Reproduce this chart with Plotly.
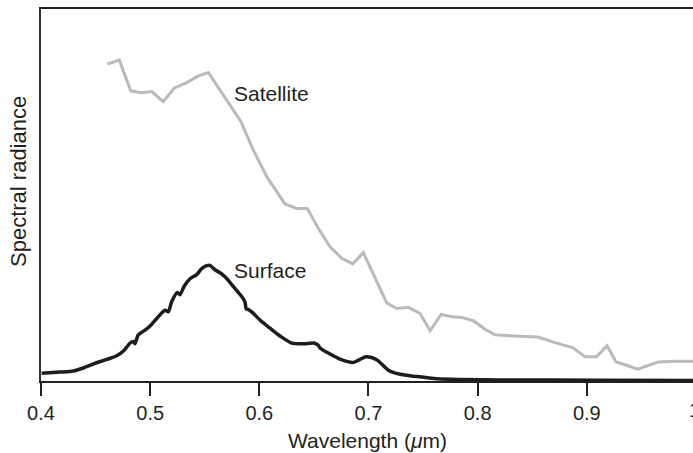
import plotly.graph_objects as go

# Satellite spectrum (wavelength in um, relative radiance 0-100)
sat_wl = [0.4607, 0.4717, 0.4822, 0.4923, 0.5014, 0.5120, 0.5219, 0.5335, 0.5441, 0.5533,
          0.5832, 0.5945, 0.6071, 0.6235, 0.6343, 0.6440, 0.6541, 0.6648, 0.6755, 0.6856,
          0.6953, 0.7167, 0.7259, 0.7365, 0.7472, 0.7564, 0.7665, 0.7763, 0.7854, 0.7961,
          0.8068, 0.8159, 0.8327, 0.8553, 0.8709, 0.8874, 0.8984, 0.9089, 0.9186, 0.9268,
          0.9360, 0.9465, 0.9655, 0.9809, 1.0]
sat_rad = [85.2, 86.3, 78.0, 77.5, 77.8, 75.1, 78.7, 80.2, 82.0, 82.9,
           69.7, 62.1, 54.8, 47.6, 46.4, 46.4, 41.0, 36.1, 33.0, 31.5,
           34.5, 21.0, 19.5, 19.8, 18.2, 13.5, 17.9, 17.3, 17.1, 16.2,
           13.9, 12.4, 12.1, 11.8, 10.3, 8.9, 6.5, 6.5, 9.5, 5.1,
           4.3, 3.2, 5.1, 5.3, 5.3]

# Surface spectrum
sur_wl = [0.4006, 0.4174, 0.4296, 0.4388, 0.4510, 0.4605, 0.4694, 0.4760, 0.4815, 0.4850,
          0.4861, 0.4891, 0.4950, 0.4999, 0.5060, 0.5136, 0.5166, 0.5197, 0.5249, 0.5273,
          0.5310, 0.5365, 0.5426, 0.5472, 0.5518, 0.5548, 0.5594, 0.5640, 0.5686, 0.5762,
          0.5839, 0.5869, 0.5880, 0.5900, 0.5930, 0.6006, 0.6098, 0.6190, 0.6297, 0.6403,
          0.6500, 0.6540, 0.6556, 0.6632, 0.6739, 0.6861, 0.6978, 0.7075, 0.7182, 0.7289,
          0.7442, 0.7625, 0.7839, 0.8205, 0.9122, 1.0]
sur_rad = [2.1, 2.4, 2.7, 3.5, 4.9, 5.8, 6.8, 8.2, 10.2, 10.6,
           10.0, 12.4, 13.6, 14.8, 16.8, 19.0, 18.6, 21.3, 23.8, 23.2,
           25.4, 27.5, 28.6, 30.2, 31.0, 31.1, 29.9, 29.1, 28.0, 25.4,
           22.7, 21.2, 19.4, 19.2, 18.6, 16.4, 14.2, 12.1, 10.2, 10.0,
           10.2, 9.6, 8.9, 7.5, 5.9, 5.0, 6.5, 5.7, 2.9, 1.8,
           1.2, 0.6, 0.4, 0.3, 0.2, 0.15]

tick_vals = [0.4, 0.5, 0.6, 0.7, 0.8, 0.9]
tick_text = ["0.4", "0.5", "0.6", "0.7", "0.8", "0.9"]

FONT = "Liberation Sans, Arial, Helvetica, sans-serif"

fig = go.Figure()
fig.add_trace(go.Scatter(x=sat_wl, y=sat_rad, mode="lines",
                         line=dict(color="#bababa", width=3), showlegend=False))
fig.add_trace(go.Scatter(x=sur_wl, y=sur_rad, mode="lines",
                         line=dict(color="#1e1c1c", width=3.5, shape="spline", smoothing=0.7),
                         showlegend=False))

fig.update_layout(
    width=693, height=453,
    margin=dict(l=41, r=0, t=9, b=72),
    paper_bgcolor="white", plot_bgcolor="white",
    font=dict(family=FONT, size=20, color="#231f20"),
    xaxis=dict(range=[0.4, 0.9973], tickvals=tick_vals, ticktext=tick_text,
               showgrid=False, zeroline=False, showline=True, linecolor="#231f20",
               linewidth=2, mirror=True, ticks="outside", ticklen=13, tickwidth=2,
               tickcolor="#231f20", tickfont=dict(size=20, color="#231f20")),
    yaxis=dict(range=[0, 100], showgrid=False, zeroline=False, showline=True,
               linecolor="#333333", linewidth=1.5, showticklabels=False, ticks=""),
    annotations=[
        dict(text="Satellite", x=0.5751, y=77.4, xref="x", yref="y", xanchor="left",
             yanchor="middle", showarrow=False, font=dict(size=21)),
        dict(text="Surface", x=0.5751, y=29.6, xref="x", yref="y", xanchor="left",
             yanchor="middle", showarrow=False, font=dict(size=21)),
        dict(text="Wavelength (<i>μ</i>m)", x=0.5, y=-0.161, xref="paper", yref="paper",
             xanchor="center", yanchor="middle", showarrow=False, font=dict(size=21)),
        dict(text="Spectral radiance", x=-0.0353, y=0.5376, xref="paper", yref="paper",
             xanchor="center", yanchor="middle", textangle=-90, showarrow=False,
             font=dict(size=22)),
        dict(text="1", x=1.003, y=-0.0793, xref="paper", yref="paper",
             xanchor="center", yanchor="middle", showarrow=False, font=dict(size=20)),
    ],
)

fig.write_html("out.html")
